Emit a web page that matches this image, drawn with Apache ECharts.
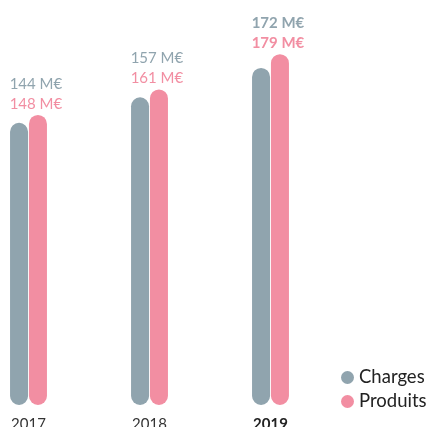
<!DOCTYPE html>
<html>
<head>
<meta charset="utf-8">
<script src="https://cdn.jsdelivr.net/npm/echarts@6/dist/echarts.min.js"></script>
<style>
  html, body { margin: 0; padding: 0; background: #fff; }
  #chartbox { width: 430px; height: 427px; }
</style>
</head>
<body>
<div id="chartbox"></div>
<script>
  // données
  var years = ['2017', '2018', '2019'];
  var charges = [144, 157, 172];
  var produits = [148, 161, 179];
  var seriesNames = ['Charges', 'Produits'];

  var greyColor = '#90a4ae';
  var pinkColor = '#f28ea2';
  var lastIdx = years.length - 1;

  var myChart = echarts.init(document.getElementById('chartbox'));

  var option = {
    textStyle: { fontFamily: 'Lato' },
    color: [greyColor, pinkColor],
    animation: false,
    legend: {
      orient: 'vertical',
      left: 336,
      top: 363,
      icon: 'circle',
      itemWidth: 13,
      itemHeight: 13,
      itemGap: 5,
      textStyle: { fontSize: 18.5, color: '#222', fontFamily: 'Lato' },
      data: seriesNames
    },
    grid: {   // bords
      left: 28.5,
      right: 159.5,
      top: 13,
      bottom: 22,
      containLabel: false,
      outerBoundsMode: 'none'
    },
    xAxis: {
      type: 'category',
      boundaryGap: false,
      data: years,
      axisLine: { show: false },
      axisTick: { show: false },
      splitLine: { show: false },
      axisLabel: {
        margin: 12,
        fontSize: 15,
        color: '#333',
        formatter: function (v, i) {
          return i === lastIdx ? '{b|' + v + '}' : v;
        },
        rich: {
          b: { fontSize: 15, fontWeight: 'bold', color: '#222', fontFamily: 'Lato' }
        }
      }
    },
    yAxis: {
      type: 'value',
      min: 0,
      max: 200,
      show: false
    },
    series: [
      {
        name: seriesNames[0],
        type: 'bar',
        barWidth: 18,
        barGap: '5%',
        itemStyle: { borderRadius: 9 },
        data: charges
      },
      {
        name: seriesNames[1],
        type: 'bar',
        barWidth: 18,
        itemStyle: { borderRadius: 9 },
        label: {
          show: true,
          position: 'top',
          distance: 1,
          offset: [-2, 0],
          align: 'center',
          formatter: function (p) {
            var i = p.dataIndex;
            var s = i === lastIdx ? 'B' : '';
            return '{a' + s + '|' + charges[i] + ' M€}\n{b' + s + '|' + produits[i] + ' M€}';
          },
          rich: {
            a: { color: greyColor, fontSize: 15, lineHeight: 20, fontFamily: 'Lato' },
            b: { color: pinkColor, fontSize: 15, lineHeight: 20, fontFamily: 'Lato' },
            aB: { color: greyColor, fontSize: 15, lineHeight: 20, fontWeight: 'bold', fontFamily: 'Lato' },
            bB: { color: pinkColor, fontSize: 15, lineHeight: 20, fontWeight: 'bold', fontFamily: 'Lato' }
          }
        },
        data: produits
      }
    ]
  };

  myChart.setOption(option);
</script>
</body>
</html>
